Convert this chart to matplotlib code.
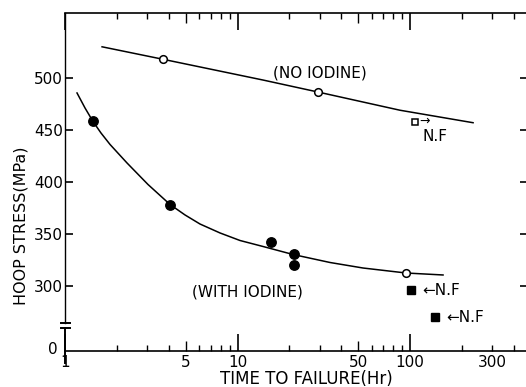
import matplotlib
matplotlib.use("Agg")
import matplotlib.pyplot as plt

# values (time in hours, hoop stress in MPa)
no_iodine_t = [3.7, 29.3]
no_iodine_s = [518, 487]
no_iodine_nf_t = [107]
no_iodine_nf_s = [458]
no_iodine_curve_t = [1.64, 3.7, 14.1, 29.3, 87.5, 232]
no_iodine_curve_s = [530, 518, 498, 486.5, 469, 457]

iodine_t = [1.45, 4.06, 15.6, 21.3, 21.3]
iodine_s = [459, 378, 342, 331, 320]
iodine_open_t = [95]
iodine_open_s = [312.5]
iodine_nf_t = [101, 140]
iodine_nf_s = [296, 270]
iodine_curve_t = [1.174, 1.306, 1.453, 1.617, 1.824, 2.288, 3.028, 4.061, 4.964,
                  6.062, 7.918, 10.34, 14.05, 20.98, 34.38, 53.41, 94.8, 155.4]
iodine_curve_s = [485.6, 471.2, 458.2, 447.1, 436.1, 418.3, 397.6, 378.4, 368.3,
                  359.6, 351.0, 343.75, 338.0, 330.3, 322.6, 317.3, 312.5, 310.6]

xmajor = [1, 10, 100]
xminor = [2, 3, 4, 5, 6, 7, 8, 9, 20, 30, 40, 50, 60, 70, 80, 90, 200, 300, 400]
xminor_labels = {5: '5', 50: '50', 300: '300'}
yticks = [240, 300, 350, 400, 450, 500]
ytick_labels = ['0', '300', '350', '400', '450', '500']

narrow = ['Liberation Sans Narrow', 'DejaVu Sans']

fig = plt.figure(figsize=(5.26, 3.87), dpi=100)
ax = fig.add_axes([65 / 526, 1 - 351 / 387, 463 / 526, 338 / 387])
ax.set_xscale('log')
ax.set_xlim(1, 483)
ax.set_ylim(237.5, 562.5)

lw = 1.1
ax.plot(no_iodine_curve_t, no_iodine_curve_s, color='black', lw=lw)
ax.plot(iodine_curve_t, iodine_curve_s, color='black', lw=lw)
ax.plot(no_iodine_t, no_iodine_s, 'o', ms=5.5, mfc='white', mec='black', mew=1.1)
ax.plot(iodine_open_t, iodine_open_s, 'o', ms=5.5, mfc='white', mec='black', mew=1.1)
ax.plot(no_iodine_nf_t, no_iodine_nf_s, 's', ms=5, mfc='white', mec='black', mew=1.1)
ax.plot(iodine_t, iodine_s, 'o', ms=6.8, color='black')
ax.plot(iodine_nf_t, iodine_nf_s, 's', ms=5.5, color='black')

for t, s in zip(iodine_nf_t, iodine_nf_s):
    ax.annotate('\u2190N.F', xy=(t, s), xytext=(8, 0), textcoords='offset points',
                va='center', ha='left', fontsize=11, family=narrow)
for t, s in zip(no_iodine_nf_t, no_iodine_nf_s):
    ax.annotate('\u2192', xy=(t, s), xytext=(3, 0), textcoords='offset points',
                va='center', ha='left', fontsize=9, family=narrow)
    ax.annotate('N.F', xy=(t, s), xytext=(5, -10.5), textcoords='offset points',
                va='center', ha='left', fontsize=11, family=narrow)

ax.text(30.1, 505, '(NO IODINE)', ha='center', va='center', fontsize=11, family=narrow)
ax.text(11.4, 294, '(WITH IODINE)', ha='center', va='center', fontsize=11, family=narrow)

# broken left axis
ax.spines['left'].set_visible(False)
ytr = ax.get_yaxis_transform()
ax.plot([0, 0], [562.5, 264.4], transform=ytr, color='black', lw=1.0, clip_on=False)
ax.plot([0, 0], [259.6, 226], transform=ytr, color='black', lw=1.4, clip_on=False)
for yb in (264.4, 259.6):
    ax.plot([-0.008, 0.01], [yb, yb], transform=ytr, color='black', lw=1.4, clip_on=False)
for side in ('top', 'bottom', 'right'):
    ax.spines[side].set_linewidth(1.2)

ax.set_xticks(xmajor)
ax.set_xticklabels([str(v) for v in xmajor])
ax.set_xticks(xminor, minor=True)
ax.set_xticklabels([xminor_labels.get(v, '') for v in xminor], minor=True)
ax.set_yticks(yticks)
ax.set_yticklabels(ytick_labels)

ax.tick_params(axis='x', which='both', direction='in', top=True, labelsize=11, pad=3)
ax.tick_params(axis='x', which='major', length=12, width=1.2)
ax.tick_params(axis='x', which='minor', length=4.5, width=1.0)
ax.tick_params(axis='y', which='both', direction='in', right=True, labelsize=11,
               length=5.5, width=1.2, pad=1.5)
ax.yaxis.set_minor_locator(matplotlib.ticker.NullLocator())

for v, tk in zip(xminor, ax.xaxis.get_minor_ticks()):
    if v in (5, 50):
        tk.tick1line.set_markersize(7)
        tk.tick2line.set_markersize(7)
first = ax.yaxis.get_major_ticks()[0]
first.tick1line.set_visible(False)
first.tick2line.set_visible(False)
first.label1.set_x(-0.012)

fig.text(21 / 526, 1 - 226 / 387, 'HOOP STRESS(MPa)', rotation=90, ha='center',
         va='center', fontsize=11.5, family=narrow)
fig.text(306 / 526, 1 - 379 / 387, 'TIME TO FAILURE(Hr)', ha='center', va='center',
         fontsize=12, family=narrow)

fig.savefig('out.png', dpi=100)
